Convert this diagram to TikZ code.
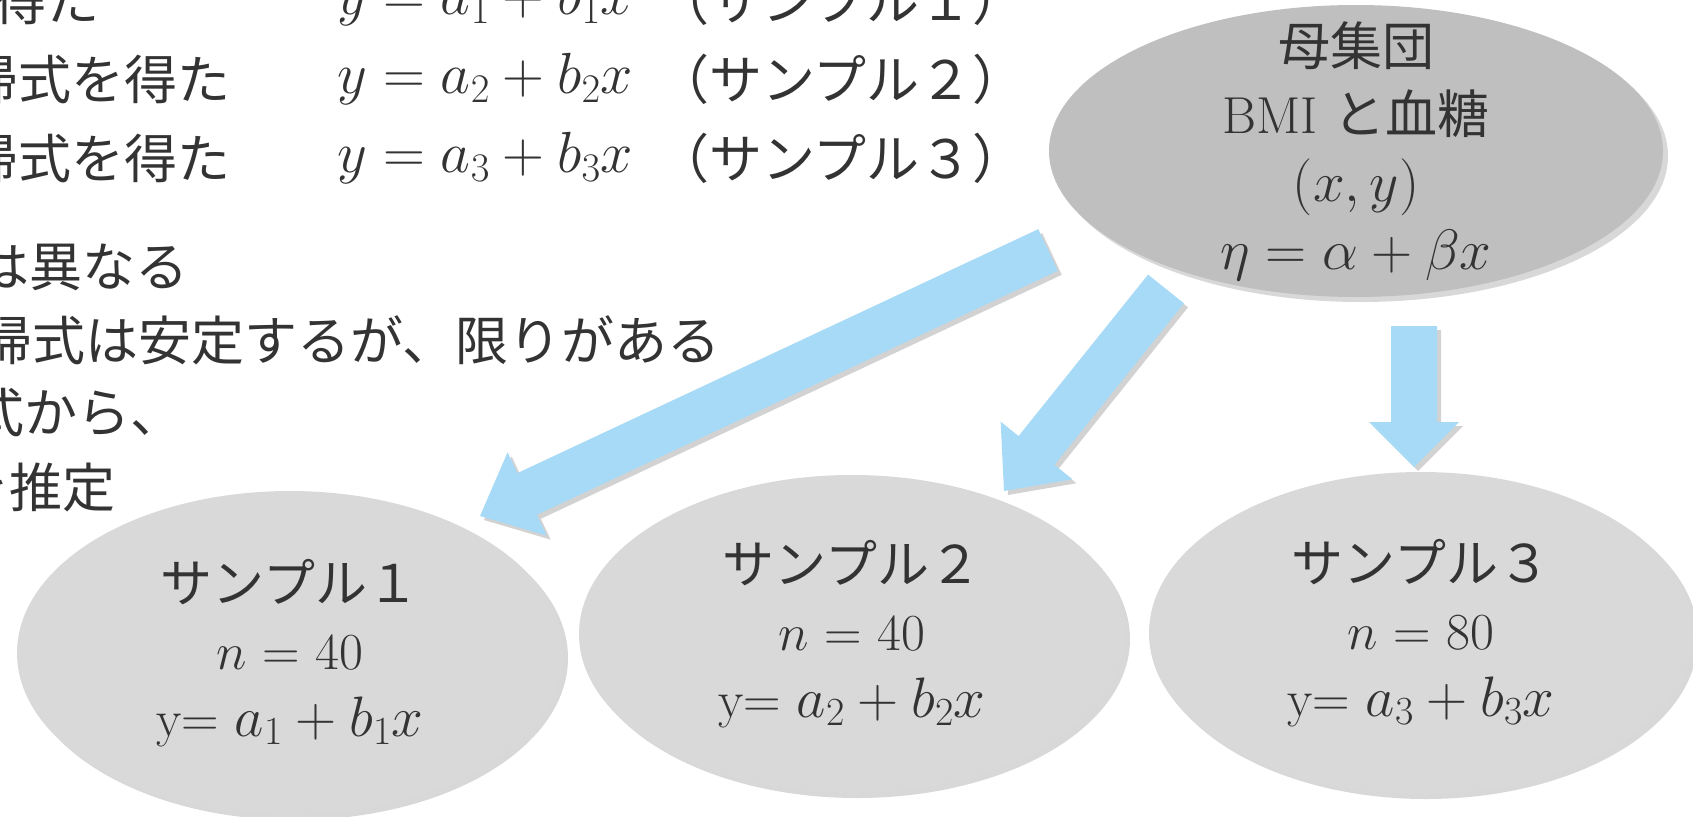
\RequirePackage{fix-cm}
\documentclass[tikz,border=0pt]{standalone}
\usepackage{fontspec}
\newfontfamily\jp{Noto Sans CJK JP}
\usetikzlibrary{shapes.geometric,shadows,calc}
\definecolor{popfill}{HTML}{BFBFBF}
\definecolor{smpfill}{HTML}{D9D9D9}
\definecolor{arrblue}{HTML}{A6DAF6}
\definecolor{txt}{HTML}{333333}
\newcommand\lgmath[1]{{\fontsize{57}{60}\selectfont$#1$}}
\tikzset{
  ell/.style={ellipse, inner sep=0pt, text=txt, align=center,
    drop shadow={shadow xshift=5pt, shadow yshift=-5pt, opacity=0.3}},
  popell/.style={ell, fill=popfill},
  poptext/.style={inner sep=0pt, text=txt, align=center, font=\fontsize{52}{68}\selectfont},
  smpell/.style={ell, fill=smpfill, font=\fontsize{52}{67}\selectfont},
  lefttxt/.style={inner sep=0pt, text=txt, font=\fontsize{53}{60}\selectfont},
  leftmath/.style={inner sep=0pt, text=txt, font=\fontsize{58}{60}\selectfont},
  arrshadow/.style={drop shadow={shadow xshift=4pt, shadow yshift=-4pt, opacity=0.35}}
}
\newcommand\blockarr[5]{%
  \coordinate (hb) at ($(#2)!#5!(#1)$);
  \fill[arrblue, arrshadow]
    ($(#1)!#3!90:(#2)$) -- ($(hb)!#3!90:(#2)$) -- ($(hb)!#4!90:(#2)$) -- (#2)
    -- ($(hb)!#4!-90:(#2)$) -- ($(hb)!#3!-90:(#2)$) -- ($(#1)!#3!-90:(#2)$) -- cycle;
}
\begin{document}
\begin{tikzpicture}[x=1pt,y=-1pt]
\useasboundingbox (0,0) rectangle (1693,816);
\clip (0,0) rectangle (1693,816);
\fill[white] (0,0) rectangle (1693,816);

% left text
\node[lefttxt, anchor=east] (r1) at (100,0) {\jp 得た};
\node[lefttxt, anchor=east] (r2) at (231,79) {\jp 帰式を得た};
\node[lefttxt, anchor=east] (r3) at (231,158) {\jp 帰式を得た};
\node[leftmath, anchor=west] (m1) at (337,0) {$y = a_1 + b_1x$};
\node[leftmath, anchor=west] (m2) at (337,79) {$y = a_2 + b_2x$};
\node[leftmath, anchor=west] (m3) at (337,158) {$y = a_3 + b_3x$};
\node[lefttxt, anchor=west] (p1) at (656,0) {\jp （サンプル１）};
\node[lefttxt, anchor=west] (p2) at (656,79) {\jp （サンプル２）};
\node[lefttxt, anchor=west] (p3) at (656,158) {\jp （サンプル３）};
\node[lefttxt, anchor=east] (r4) at (189,267) {\jp は異なる};
\node[lefttxt, anchor=east] (r5) at (721,340) {\jp 帰式は安定するが、限りがある};
\node[lefttxt, anchor=east] (r6) at (184,413) {\jp 式から、};
\node[lefttxt, anchor=east] (r7) at (116,487) {\jp を推定};

% ellipses
\node[popell, minimum width=614pt, minimum height=292pt] (pop) at (1356,151) {};
\node[poptext] (poptxt) at (pop.center)
  {{\jp 母集団}\\BMI {\jp と血糖}\\\lgmath{(x,y)}\\\lgmath{\eta = \alpha + \beta x}};
\node[smpell, minimum width=546pt, minimum height=324pt] (s1) at (290,653)
  {{\jp サンプル１}\\$n$ = 40\\y= \lgmath{a_1 + b_1x}};
\node[smpell, minimum width=546pt, minimum height=318pt] (s2) at (852,634)
  {{\jp サンプル２}\\$n$ = 40\\y= \lgmath{a_2 + b_2x}};
\node[smpell, minimum width=544pt, minimum height=322pt] (s3) at (1421,633)
  {{\jp サンプル３}\\$n$ = 80\\y= \lgmath{a_3 + b_3x}};

% arrows
\coordinate (a1t) at (1048,250);
\coordinate (a1h) at (480,516);
\coordinate (a2t) at (1166,289);
\coordinate (a2h) at (1004,491);
\coordinate (a3t) at (1414,326);
\coordinate (a3h) at (1414,467);
\blockarr{a1t}{a1h}{23pt}{46pt}{52pt}
\blockarr{a2t}{a2h}{23pt}{46pt}{52pt}
\blockarr{a3t}{a3h}{23pt}{45pt}{45pt}
\end{tikzpicture}
\end{document}
